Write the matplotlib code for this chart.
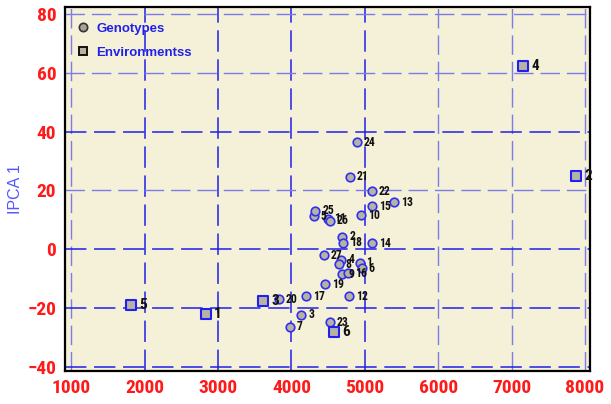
import matplotlib
matplotlib.use("Agg")
import matplotlib.pyplot as plt
from matplotlib.lines import Line2D

# ---- data ----
gen_labels = [str(i) for i in range(1, 28)]
gen_yield = [4929, 4693, 4134, 4679, 4302, 4956, 3978, 4643, 4684, 4947,
             4492, 4783, 5402, 5102, 5097, 4770, 4202, 4701, 4456, 3828,
             4793, 5097, 4524, 4888, 4325, 4520, 4442]
gen_ipca1 = [-4.7, 4.2, -22.3, -3.7, 11.2, -6.6, -26.5, -5.2, -8.5, 11.5,
             10.3, -16.0, 15.9, 1.9, 14.5, -8.3, -16.1, 2.1, -12.0, -17.1,
             24.7, 19.7, -24.9, 36.3, 13.0, 9.6, -2.1]

env_labels = ["1", "2", "3", "4", "5", "6"]
env_yield = [2832, 7880, 3610, 7160, 1814, 4579]
env_ipca1 = [-22.1, 24.8, -17.6, 62.3, -19.2, -28.3]

x_ticks = [1000, 2000, 3000, 4000, 5000, 6000, 7000, 8000]
y_ticks = [-40, -20, 0, 20, 40, 60, 80]

narrow = ['Liberation Sans Narrow', 'Arial Narrow', 'Roboto Condensed',
          'Archivo Narrow', 'Liberation Sans']
plt.rcParams['font.family'] = ['Liberation Sans', 'DejaVu Sans']

fig = plt.figure(figsize=(6.11, 4.04), dpi=100)
ax = fig.add_axes([0.1056, 0.0824, 0.8600, 0.8996])
ax.set_facecolor('#F5F0D8')

ax.set_xlim(909, 8068)
ax.set_ylim(-41.4, 82.3)
ax.set_xticks(x_ticks)
ax.set_yticks(y_ticks)

# grid
ax.grid(True, color='#1f1fe8', linestyle=(0, (14, 5)), linewidth=1.1)
light_x = {1000, 6000, 7000, 8000}
light_y = {80, 60, 20}
for gl, v in zip(ax.xaxis.get_gridlines(), x_ticks):
    if v in light_x:
        gl.set_color('#7c7ce8')
        gl.set_linewidth(1.0)
for gl, v in zip(ax.yaxis.get_gridlines(), y_ticks):
    if v in light_y:
        gl.set_color('#7c7ce8')
        gl.set_linewidth(1.0)
ax.set_axisbelow(True)

for s in ax.spines.values():
    s.set_color('black')
    s.set_linewidth(1.6)

ax.tick_params(length=0, pad=6)
for lab in ax.get_xticklabels() + ax.get_yticklabels():
    lab.set_family(narrow)
    lab.set_fontweight('bold')
    lab.set_color('#ff1a1a')
    lab.set_fontsize(14)

ax.set_ylabel('IPCA 1', color='#5555ff', fontsize=11.5, labelpad=3)

# genotypes
ax.scatter(gen_yield, gen_ipca1, s=38, marker='o', facecolor='#b7b2a2',
           edgecolor='#3030f0', linewidth=1.2, zorder=3)
for x, y, t in zip(gen_yield, gen_ipca1, gen_labels):
    ax.annotate(t, (x, y), xytext=(5, 0), textcoords='offset points',
                ha='left', va='center', fontsize=8.5, fontweight='bold',
                family=narrow, color='#111111', zorder=4)

# environments
ax.scatter(env_yield, env_ipca1, s=48, marker='s', facecolor='#b7b2a2',
           edgecolor='#2020f0', linewidth=1.5, zorder=3)
for x, y, t in zip(env_yield, env_ipca1, env_labels):
    ax.annotate(t, (x, y), xytext=(6, 0), textcoords='offset points',
                ha='left', va='center', fontsize=11, fontweight='bold',
                family=narrow, color='#111111', zorder=4)

handles = [
    Line2D([], [], marker='o', linestyle='none', markersize=6,
           markerfacecolor='#a8a296', markeredgecolor='#333333', markeredgewidth=1.2),
    Line2D([], [], marker='s', linestyle='none', markersize=6,
           markerfacecolor='#b9b29f', markeredgecolor='#111111', markeredgewidth=1.4),
]
leg = ax.legend(handles, ['Genotypes', 'Environmentss'], loc='upper left',
                bbox_to_anchor=(0.002, 0.983),
                frameon=False, handletextpad=0.45, handlelength=1.2,
                labelspacing=0.9, borderaxespad=0.3,
                prop={'weight': 'bold', 'size': 9.5})
for t in leg.get_texts():
    t.set_color('#2020e8')

fig.savefig('out.png', dpi=100)
